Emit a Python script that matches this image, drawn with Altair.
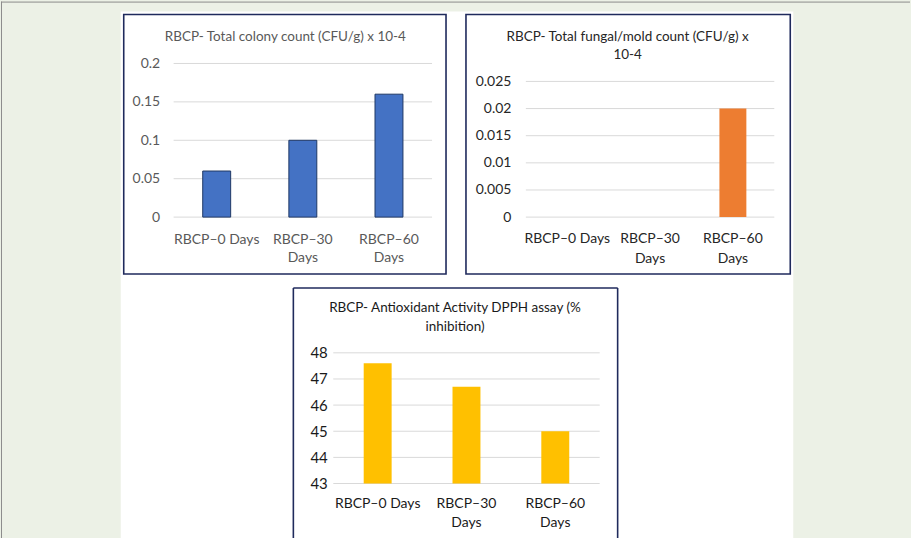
import altair as alt
import pandas as pd

# ---- data -------------------------------------------------------------
days = ["RBCP–0 Days", "RBCP–30 Days", "RBCP–60 Days"]
colony = [0.06, 0.10, 0.16]
fungal = [0.0, 0.0, 0.02]
dpph = [47.6, 46.7, 45.0]

colony_ticks = [0, 0.05, 0.1, 0.15, 0.2]
fungal_ticks = [0, 0.005, 0.01, 0.015, 0.02, 0.025]
dpph_ticks = [43, 44, 45, 46, 47, 48]

colony_title = "RBCP- Total colony count (CFU/g) x 10-4"
fungal_title = ["RBCP- Total fungal/mold count (CFU/g) x", "10-4"]
dpph_title = ["RBCP- Antioxidant Activity DPPH assay (%", "inhibition)"]

# ---- styling ------------------------------------------------------------
FONT = "Lato"
PAGE = "#ecf1e6"
SHEET = "#ffffff"
FRAME = "#1f2a5c"
GRID = "#d9d9d9"

one = pd.DataFrame({"k": [0]})
label_expr = f"datum.value == '{days[0]}' ? datum.value : split(datum.value, ' ')"


def rect(x, x2, y, y2, **kw):
    return alt.Chart(one).mark_rect(**kw).encode(
        x=alt.value(x), x2=alt.value(x2), y=alt.value(y), y2=alt.value(y2)
    )


def rule(x, x2, y, y2, color, width=1.0):
    return alt.Chart(one).mark_rule(color=color, strokeWidth=width).encode(
        x=alt.value(x), x2=alt.value(x2), y=alt.value(y), y2=alt.value(y2)
    )


def title_text(lines, x, y, color, size):
    return alt.Chart(one).mark_text(
        font=FONT, fontSize=size, color=color, align="center",
        baseline="middle", lineHeight=19,
    ).encode(x=alt.value(x), y=alt.value(y), text=alt.value(lines))


def panel(values, ticks, domain, color, bar_size, width, height,
          txt, lab_pad_y, lab_pad_x, line_h, yfs, xfs,
          xrange=None, yrange=None, y_offset=0, bar_stroke=None):
    df = pd.DataFrame({"day": days, "value": values})
    tdf = pd.DataFrame({"value": ticks})

    xscale = alt.Scale(paddingInner=0, paddingOuter=0)
    if xrange is not None:
        xscale = alt.Scale(paddingInner=0, paddingOuter=0, range=xrange)
    yscale = alt.Scale(domain=domain, nice=False, zero=False)
    if yrange is not None:
        yscale = alt.Scale(domain=domain, nice=False, zero=False, range=yrange)

    x_axis = alt.Axis(
        labelAngle=0, domain=False, ticks=False, grid=False,
        labelPadding=lab_pad_x, labelFontSize=xfs, labelColor=txt,
        labelFont=FONT, labelExpr=label_expr, labelLineHeight=line_h,
        labelBaseline="top", zindex=1,
    )
    y_axis = alt.Axis(
        values=ticks, format="~g", domain=False, ticks=False, grid=False,
        labelPadding=lab_pad_y, labelFontSize=yfs, labelColor=txt,
        labelFont=FONT, zindex=1, offset=y_offset,
    )
    y_enc = alt.Y("value:Q", title=None, scale=yscale, axis=y_axis)

    gx0 = xrange[0] if xrange else 0
    gx1 = xrange[1] if xrange else width
    grid = alt.Chart(tdf).mark_rule(color=GRID, strokeWidth=1).encode(
        y=y_enc, x=alt.value(gx0), x2=alt.value(gx1)
    )
    bar_kw = dict(color=color, size=bar_size)
    if bar_stroke:
        bar_kw.update(stroke=bar_stroke, strokeWidth=1)
    bars = alt.Chart(df).mark_bar(**bar_kw).encode(
        x=alt.X("day:N", sort=days, title=None, scale=xscale, axis=x_axis),
        y=y_enc,
        y2=alt.Y2Datum(domain[0]),
    )
    return grid, bars


# ---- panel 1: total colony count ------------------------------------------
g1, b1 = panel(colony, colony_ticks, [0, 0.2], "#4472c4", 28, 259, 154,
               "#595959", 14, 15, 18, 14, 14, bar_stroke="#1f3864")
c1 = alt.layer(
    rect(-173, 738, -62, 476, color=PAGE),
    rect(-53, 621, -52, 476, color=SHEET),
    rule(-173, 738, -61.5, -61.5, "#8c8c8c"),
    rule(-172.5, -172.5, -62, 476, "#8c8c8c"),
    rect(-50, 273, -49, 211, fill=SHEET, stroke=FRAME, strokeWidth=1.6),
    g1, b1,
    title_text(colony_title, 112, -27, "#595959", 13.5),
).properties(width=259, height=154)

# ---- panel 2: total fungal / mold count -----------------------------------
g2, b2 = panel(fungal, fungal_ticks, [0, 0.025], "#ed7d31", 27, 249, 154,
               "#262626", 15, 14, 20, 14, 14, yrange=[154, 18])
c2 = alt.layer(
    rect(-60, 265, -49, 211, fill=SHEET, stroke=FRAME, strokeWidth=1.6),
    g2, b2,
    title_text(fungal_title, 102, -27, "#262626", 13.5),
).properties(width=249, height=154)

# ---- panel 3: antioxidant activity ------------------------------------------
g3, b3 = panel(dpph, dpph_ticks, [43, 48], "#ffc000", 28, 602, 131,
               "#1a1a1a", 6, 13, 19, 15, 14,
               xrange=[160, 427], y_offset=-160)
c3 = alt.layer(
    rule(120, 445, -65, -65, FRAME, 1.6),
    rule(120, 120, -65, 186, FRAME, 1.6),
    rule(445, 445, -65, 186, FRAME, 1.6),
    g3, b3,
    title_text(dpph_title, 282, -45, "#1a1a1a", 13.5),
).properties(width=602, height=131)

row = alt.hconcat(c1, c2, spacing=94, bounds="flush")
chart = (
    alt.vconcat(row, c3, spacing=290, bounds="flush")
    .properties(padding=0, background=PAGE)
    .configure_view(stroke=None)
)

chart.save("out.html", embed_options={"renderer": "svg", "actions": False})
